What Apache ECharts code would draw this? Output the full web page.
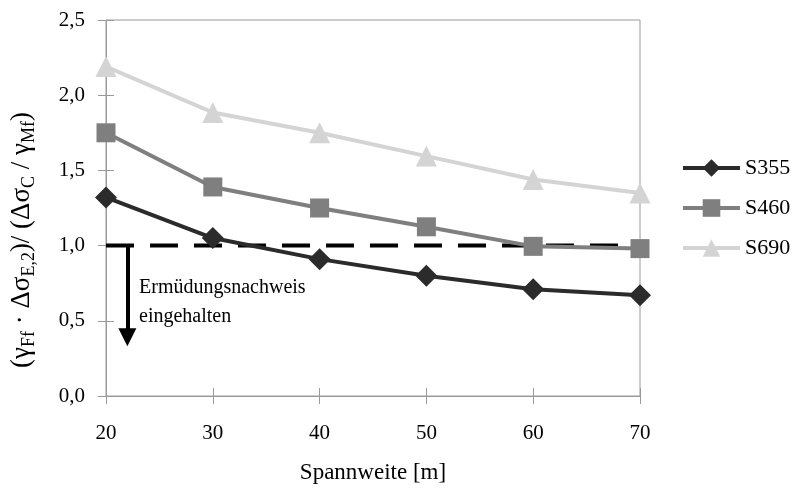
<!DOCTYPE html>
<html>
<head>
<meta charset="utf-8">
<script src="https://cdn.jsdelivr.net/npm/echarts@6/dist/echarts.min.js"></script>
<style>
  html, body { margin: 0; padding: 0; background: #fff; }
  #chart { width: 795px; height: 492px; }
</style>
</head>
<body>
<div id="chart"></div>
<script>
// Spannweiten [m]
const spans = [20, 30, 40, 50, 60, 70];
// Ausnutzungsgrad je Stahlgüte
const s355 = [1.32, 1.05, 0.91, 0.80, 0.71, 0.67];
const s460 = [1.75, 1.39, 1.25, 1.125, 0.995, 0.98];
const s690 = [2.19, 1.885, 1.75, 1.595, 1.44, 1.35];
const seriesNames = ['S355', 'S460', 'S690'];
// Grenzwert und Pfeil des Nachweises
const limitValue = 1.0;
const arrowX = 22;
const arrowEnd = 0.39;
const yTicks = [0, 0.5, 1.0, 1.5, 2.0, 2.5];

const FONT = 'Liberation Serif';
const AXIS_GREY = '#9a9a9a';

const pairs = vals => spans.map((x, i) => [x, vals[i]]);
const fmt = v => v.toFixed(1).replace('.', ',');

const chart = echarts.init(document.getElementById('chart'), null, { renderer: 'canvas' });

const markerSeries = (name, vals, color, symbol, size) => ({
  name, type: 'line', data: pairs(vals),
  symbol, symbolSize: size,
  lineStyle: { color, width: 4 },
  itemStyle: { color },
  emphasis: { disabled: true },
  z: 3
});

const option = {
  animation: false,
  backgroundColor: '#fff',
  textStyle: { fontFamily: FONT },
  grid: {
    left: 106, right: 155, top: 20, bottom: 96,
    show: true, borderColor: AXIS_GREY, borderWidth: 1, backgroundColor: 'transparent'
  },
  legend: {
    orient: 'vertical', left: 681, top: 157, padding: 0,
    data: seriesNames,
    itemWidth: 57, itemHeight: 22, itemGap: 18,
    lineStyle: { width: 4 },
    textStyle: { fontFamily: FONT, fontSize: 22, color: '#000', lineHeight: 22, padding: [0, 0, 0, 0] }
  },
  xAxis: [{
    type: 'value', min: 20, max: 70, interval: 10,
    name: 'Spannweite [m]', nameLocation: 'middle', nameGap: 65,
    nameTextStyle: { fontFamily: FONT, fontSize: 23, color: '#000' },
    axisLine: { show: true, onZero: false, lineStyle: { color: AXIS_GREY, width: 1 } },
    axisTick: { show: true, inside: false, length: 8, lineStyle: { color: AXIS_GREY } },
    axisLabel: { fontFamily: FONT, fontSize: 21, color: '#000', margin: 27 },
    splitLine: { show: false }
  }, {
    type: 'value', min: 20, max: 70, interval: 10, position: 'bottom',
    axisLine: { show: false },
    axisTick: { show: true, inside: true, length: 8, lineStyle: { color: AXIS_GREY } },
    axisLabel: { show: false }, splitLine: { show: false }
  }],
  yAxis: [{
    type: 'value', min: 0, max: 2.5, interval: 0.5,
    axisLine: { show: true, onZero: false, lineStyle: { color: AXIS_GREY, width: 1 } },
    axisTick: { show: true, inside: false, length: 8, lineStyle: { color: AXIS_GREY } },
    axisLabel: { fontFamily: FONT, fontSize: 21, color: '#000', margin: 21, formatter: fmt },
    splitLine: { show: false }
  }, {
    type: 'value', min: 0, max: 2.5, interval: 0.5, position: 'left',
    axisLine: { show: false },
    axisTick: { show: true, inside: true, length: 8, lineStyle: { color: AXIS_GREY } },
    axisLabel: { show: false }, splitLine: { show: false }
  }],
  series: [
    markerSeries('S355', s355, '#2b2b2b', 'diamond', 22),
    markerSeries('S460', s460, '#7f7f7f', 'rect', 19),
    markerSeries('S690', s690, '#d4d4d4', 'triangle', 21),
    {
      name: 'Grenze', type: 'line',
      data: [[spans[0], limitValue], [spans[spans.length - 1], limitValue]],
      symbol: 'none',
      lineStyle: { color: '#000', width: 4, type: [28, 16] },
      emphasis: { disabled: true },
      z: 2,
      markLine: {
        silent: true, symbol: ['none', 'triangle'], symbolSize: [18, 18],
        label: { show: false },
        lineStyle: { color: '#000', width: 4, type: 'solid' },
        data: [[{ coord: [arrowX, limitValue] }, { coord: [arrowX, arrowEnd] }]]
      }
    }
  ],
  graphic: [{
    // Achsentitel der y-Achse (gedreht, mit Indizes)
    type: 'text', x: 22, y: 240, rotation: Math.PI / 2, silent: true,
    style: {
      text: '{n|(γ}{s|Ff}{n| · Δσ}{s|E,2}{n|)/ (Δσ}{s|C}{n| / γ}{s|Mf}{n|)}',
      align: 'center', verticalAlign: 'middle',
      rich: {
        n: { fontFamily: FONT, fontSize: 27, lineHeight: 32, fill: '#000', verticalAlign: 'middle' },
        s: { fontFamily: FONT, fontSize: 18, lineHeight: 32, fill: '#000', verticalAlign: 'bottom' }
      }
    }
  }, {
    type: 'text', left: 139, top: 273, silent: true,
    style: {
      text: 'Ermüdungsnachweis\neingehalten',
      font: '20px "Liberation Serif"', fill: '#000', lineHeight: 29
    }
  }]
};

chart.setOption(option);
</script>
</body>
</html>
